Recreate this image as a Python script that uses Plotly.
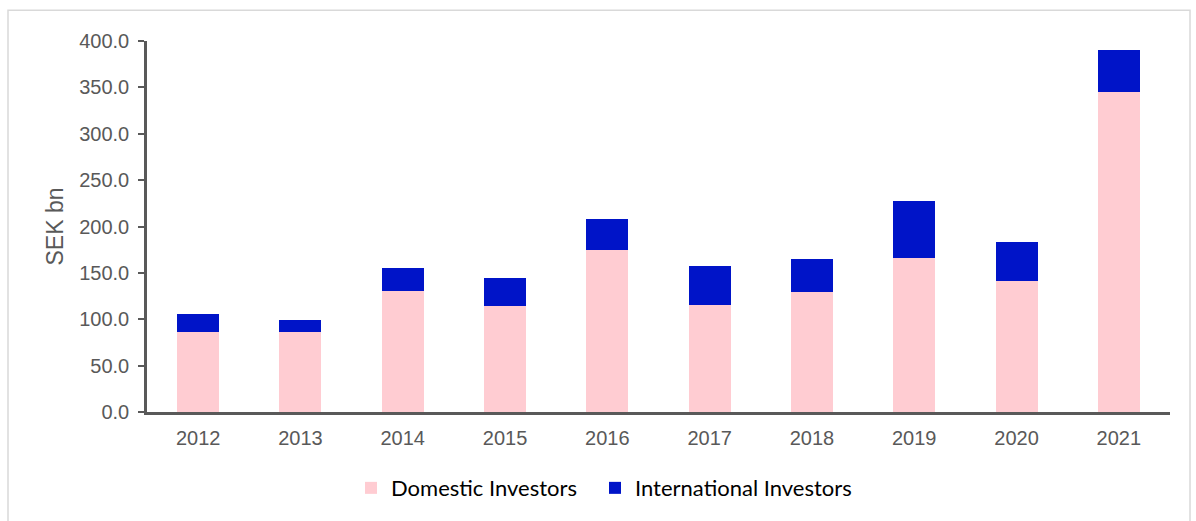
import plotly.graph_objects as go

years = ["2012", "2013", "2014", "2015", "2016", "2017", "2018", "2019", "2020", "2021"]
domestic = [86, 86, 131, 114, 175, 115, 129, 166, 141, 345]
international = [20, 13, 24, 31, 33, 42, 36, 62, 42, 45]

W, H = 1196, 521
L, R, T, B = 147, 26, 41, 107
pw, ph = W - L - R, H - T - B

fig = go.Figure()
fig.add_trace(go.Bar(x=years, y=domestic, name="Domestic Investors", legend="legend",
                     showlegend=True,
                     marker=dict(color="#FFCCD2", line=dict(width=0))))
fig.add_trace(go.Bar(x=years, y=international, name="International Investors", legend="legend2",
                     showlegend=True,
                     marker=dict(color="#0014C8", line=dict(width=0))))

tick_font = dict(family="Liberation Sans, Arial, sans-serif", size=20, color="#595959")
leg_font = dict(family="Lato, Noto Sans, sans-serif", size=22, color="#000000")
fig.update_layout(
    width=W, height=H, barmode="stack", bargap=0.59, showlegend=True,
    margin=dict(l=L, r=R, t=T, b=B),
    paper_bgcolor="white", plot_bgcolor="white",
    xaxis=dict(showline=True, linecolor="#595959", linewidth=2.5, ticks="",
               tickfont=tick_font, showgrid=False, ticklabelstandoff=6),
    yaxis=dict(range=[0, 400], dtick=50, tickformat=".1f", showline=True,
               linecolor="#595959", linewidth=2.5, ticks="outside", ticklen=6,
               tickwidth=2, tickcolor="#595959", showgrid=False, zeroline=False,
               tickfont=tick_font, ticklabelstandoff=5,
               title=dict(text="SEK bn", font=dict(family="Liberation Sans, Arial, sans-serif",
                                                   size=23, color="#595959"), standoff=10)),
    legend=dict(visible=True, orientation="h", x=(351 - L) / pw, xanchor="left", y=-0.205,
                yanchor="middle", font=leg_font, itemwidth=30),
    legend2=dict(visible=True, orientation="h", x=(595 - L) / pw, xanchor="left", y=-0.205,
                 yanchor="middle", font=leg_font, itemwidth=30),
    shapes=[dict(type="rect", xref="paper", yref="paper",
                 x0=(8 - L) / pw, x1=(1190 - L) / pw,
                 y0=(H - B - 540) / ph, y1=(H - B - 10) / ph,
                 line=dict(color="#D9D9D9", width=1.5), layer="below")],
)
fig.write_html("out.html", config={"displayModeBar": False},
               post_script="document.body.style.margin='0';")
